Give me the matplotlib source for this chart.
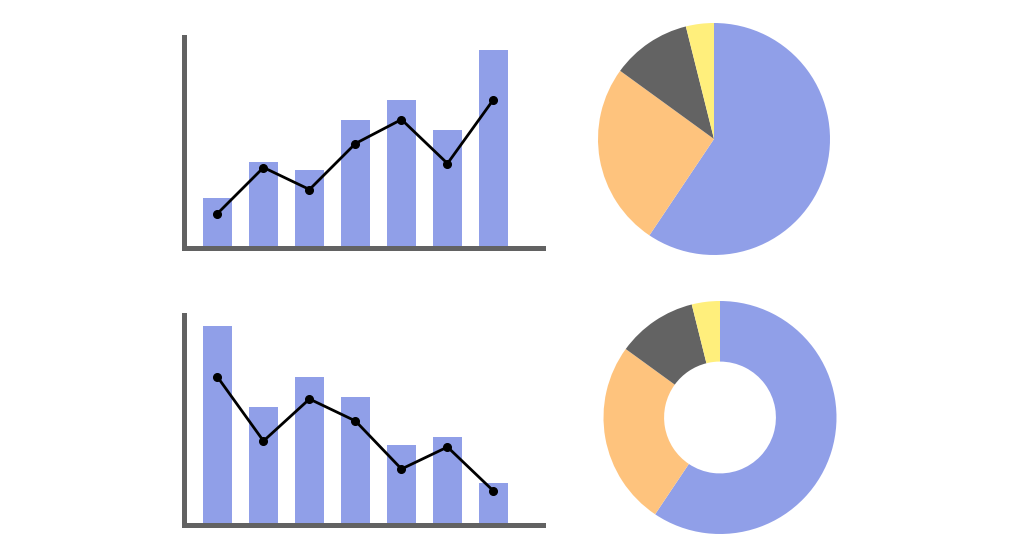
import matplotlib
matplotlib.use("Agg")
import matplotlib.pyplot as plt
import numpy as np

# Data
categories = ["1", "2", "3", "4", "5", "6", "7"]
top_bars = [2.5, 4.3, 3.9, 6.4, 7.4, 5.9, 9.9]
top_line = [1.7, 4.0, 2.9, 5.2, 6.4, 4.2, 7.4]
bottom_bars = [9.95, 5.9, 7.4, 6.4, 4.0, 4.4, 2.1]
bottom_line = [7.4, 4.2, 6.3, 5.2, 2.8, 3.9, 1.7]
pie_shares = [59.4, 25.6, 11.1, 3.9]
donut_shares = [59.4, 25.6, 11.1, 3.9]

BLUE = "#909fe8"
ORANGE = "#fec37d"
GRAY = "#636363"
YELLOW = "#ffef7c"
SPINE = "#626262"
slice_colors = [BLUE, ORANGE, GRAY, YELLOW]

W, H = 1024, 558
fig = plt.figure(figsize=(W / 100, H / 100), dpi=100)
fig.patch.set_facecolor("white")


def px_axes(left, top, right, bottom):
    return fig.add_axes([left / W, (H - bottom) / H, (right - left) / W, (bottom - top) / H])


def bar_line(ax, bars, line):
    x = np.arange(len(categories))
    ax.bar(x, bars, width=0.62, color=BLUE, zorder=1)
    ax.plot(x, line, color="black", lw=2.0, marker="o", ms=5.5, zorder=3)
    ax.set_xlim(-0.739, 7.12)
    ax.set_ylim(0, 10.625)
    for s in ["top", "right"]:
        ax.spines[s].set_visible(False)
    for s in ["left", "bottom"]:
        ax.spines[s].set_color(SPINE)
        ax.spines[s].set_linewidth(3.6)
        ax.spines[s].set_zorder(4)
    ax.spines["left"].set_bounds(0, 10.625 - 0.1)
    ax.spines["bottom"].set_bounds(-0.739, 7.12 - 0.05)
    ax.set_xticks([])
    ax.set_yticks([])
    ax.patch.set_alpha(0)


ax1 = px_axes(183.5, 35, 545, 247.5)
bar_line(ax1, top_bars, top_line)
ax2 = px_axes(183.5, 312.5, 545, 525)
bar_line(ax2, bottom_bars, bottom_line)

# Pie
r1 = 116
ax3 = px_axes(714 - r1, 139 - r1, 714 + r1, 139 + r1)
ax3.pie(pie_shares, colors=slice_colors, startangle=90, counterclock=False, radius=1)
ax3.set_xlim(-1, 1)
ax3.set_ylim(-1, 1)
ax3.set_aspect("auto")
ax3.axis("off")

# Donut
r2 = 116.5
ax4 = px_axes(720 - r2, 417.5 - r2, 720 + r2, 417.5 + r2)
ax4.pie(donut_shares, colors=slice_colors, startangle=90, counterclock=False, radius=1,
        wedgeprops=dict(width=0.52))
ax4.set_xlim(-1, 1)
ax4.set_ylim(-1, 1)
ax4.set_aspect("auto")
ax4.axis("off")

fig.savefig("out.png", dpi=100, facecolor="white")
